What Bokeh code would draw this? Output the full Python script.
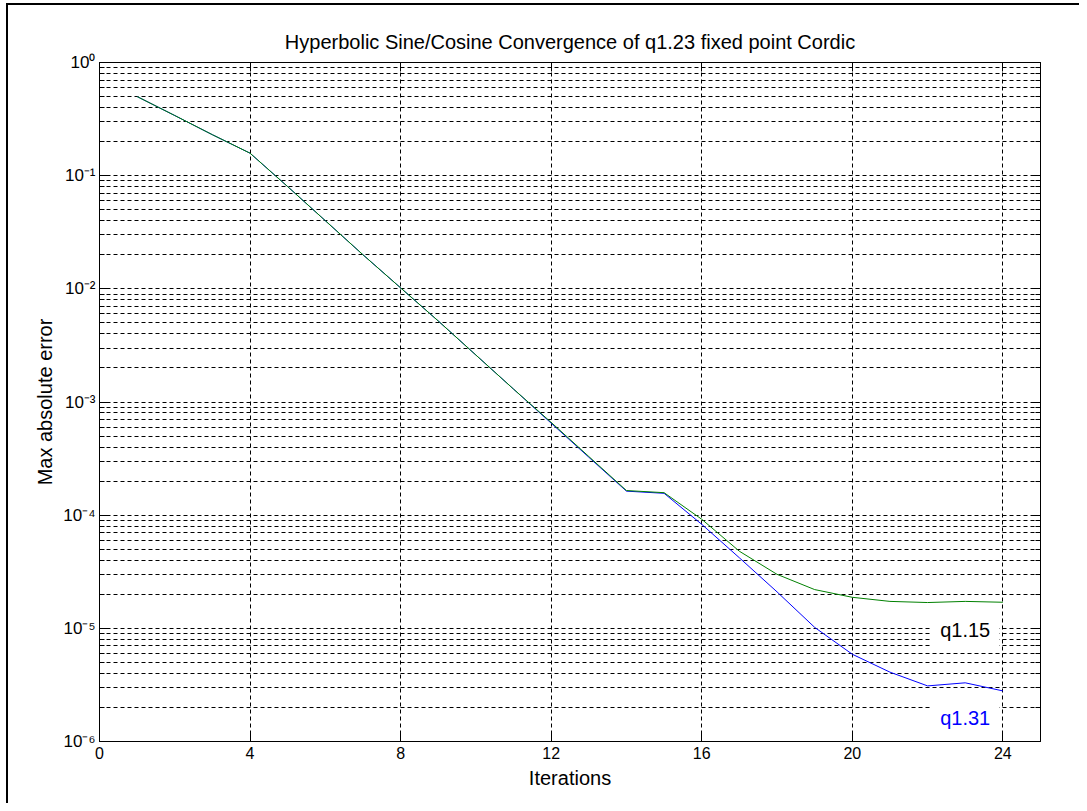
from bokeh.plotting import figure
from bokeh.embed import file_html
from bokeh.resources import INLINE
from bokeh.core.properties import value
from bokeh.models import (ColumnDataSource, Range1d, LinearAxis, LogAxis,
                          FixedTicker, CustomJSTickFormatter)

# iteration number and max absolute error
iterations = list(range(1, 25))
err_q115 = [0.50, 0.34, 0.23, 0.158, 0.080, 0.040, 0.020, 0.0102,
            0.0052, 0.0026, 0.0013, 6.6e-4, 3.3e-4, 1.65e-4, 1.58e-4, 9.2e-5,
            4.8e-5, 3.0e-5, 2.2e-5, 1.88e-5, 1.73e-5, 1.69e-5, 1.73e-5, 1.70e-5]
err_q131 = [0.50, 0.34, 0.23, 0.158, 0.080, 0.040, 0.020, 0.0102,
            0.0052, 0.0026, 0.0013, 6.5e-4, 3.25e-4, 1.63e-4, 1.56e-4, 8.3e-5,
            4.2e-5, 2.1e-5, 1.02e-5, 5.9e-6, 4.1e-6, 3.1e-6, 3.3e-6, 2.8e-6]

label_text = ["q1.15", "q1.31"]
label_x = [23, 23]
label_y = [9.6e-6, 1.6e-6]
label_color = ["black", "#0000ff"]

x_ticks = [0, 4, 8, 12, 16, 20, 24]
y_ticks = [1e-6, 1e-5, 1e-4, 1e-3, 1e-2, 1e-1, 1e0]
y_minor = [m * 10.0 ** k for k in range(-6, 0) for m in range(2, 10)]

FONT = "Liberation Sans"

p = figure(title="Hyperbolic Sine/Cosine Convergence of q1.23 fixed point Cordic",
           x_range=Range1d(0, 25), y_range=Range1d(1e-6, 1), y_axis_type="log",
           frame_width=941, frame_height=679,
           min_border_left=91, min_border_right=39, min_border_top=57, min_border_bottom=62,
           x_axis_label="Iterations", y_axis_label="Max absolute error",
           output_backend="svg", toolbar_location=None)

# outer page frame (left and top edges visible)
p.styles = {"border-left": "2px solid black", "border-top": "2px solid black",
            "margin-left": "6px", "margin-top": "3px"}
p.background_fill_color = "white"
p.border_fill_color = "white"
p.outline_line_color = "black"

p.title.align = "center"
p.title.text_font = FONT
p.title.text_font_size = "20px"
p.title.text_font_style = "normal"
p.title.text_color = "black"
p.title.standoff = 20

sup = CustomJSTickFormatter(code="""
const s = {"0":"\u2070","1":"\u00b9","2":"\u00b2","3":"\u00b3","4":"\u2074","5":"\u2075",
           "6":"\u2076","7":"\u2077","8":"\u2078","9":"\u2079","-":"\u207b"};
const e = Math.round(Math.log10(tick));
return "10" + String(e).split("").map(c => s[c]).join("");
""")
blank = CustomJSTickFormatter(code="return '';")

p.add_layout(LogAxis(formatter=blank), "right")
p.add_layout(LinearAxis(formatter=blank), "above")

p.xaxis.ticker = FixedTicker(ticks=x_ticks)
p.yaxis.ticker = FixedTicker(ticks=y_ticks, minor_ticks=y_minor)
p.yaxis[0].formatter = sup

for ax in p.axis:
    ax.axis_line_color = "black"
    ax.major_tick_line_color = "black"
    ax.minor_tick_line_color = "black"
    ax.major_tick_in = 9
    ax.major_tick_out = 0
    ax.minor_tick_in = 5
    ax.minor_tick_out = 0
    ax.major_label_text_font = FONT
    ax.major_label_text_color = "black"
    ax.axis_label_text_font = FONT
    ax.axis_label_text_font_size = "20px"
    ax.axis_label_text_font_style = "normal"
    ax.axis_label_text_color = "black"

p.xaxis.major_label_text_font_size = "16px"
p.yaxis.major_label_text_font_size = "17px"
p.xaxis[0].major_label_standoff = 9
p.yaxis[0].major_label_standoff = 4
p.xaxis[0].axis_label_standoff = 3
p.yaxis[0].axis_label_standoff = 4

p.xgrid.grid_line_color = "black"
p.xgrid.grid_line_dash = "4 3"
p.ygrid.grid_line_color = "black"
p.ygrid.grid_line_dash = "4 3"
p.ygrid.minor_grid_line_color = "black"
p.ygrid.minor_grid_line_dash = "4 3"

source = ColumnDataSource(data=dict(x=iterations, q115=err_q115, q131=err_q131))
p.line(x="x", y="q131", source=source, line_color="#0000ff", line_width=1)
p.line(x="x", y="q115", source=source, line_color="#008000", line_width=1)

labels = ColumnDataSource(data=dict(x=label_x, y=label_y, text=label_text, color=label_color))
p.text(x="x", y="y", text="text", text_color="color", source=labels,
       text_align="center", text_baseline="middle",
       text_font=value(FONT), text_font_size="20px",
       background_fill_color="white", padding=9)

open("out.html", "w").write(file_html(p, INLINE))
